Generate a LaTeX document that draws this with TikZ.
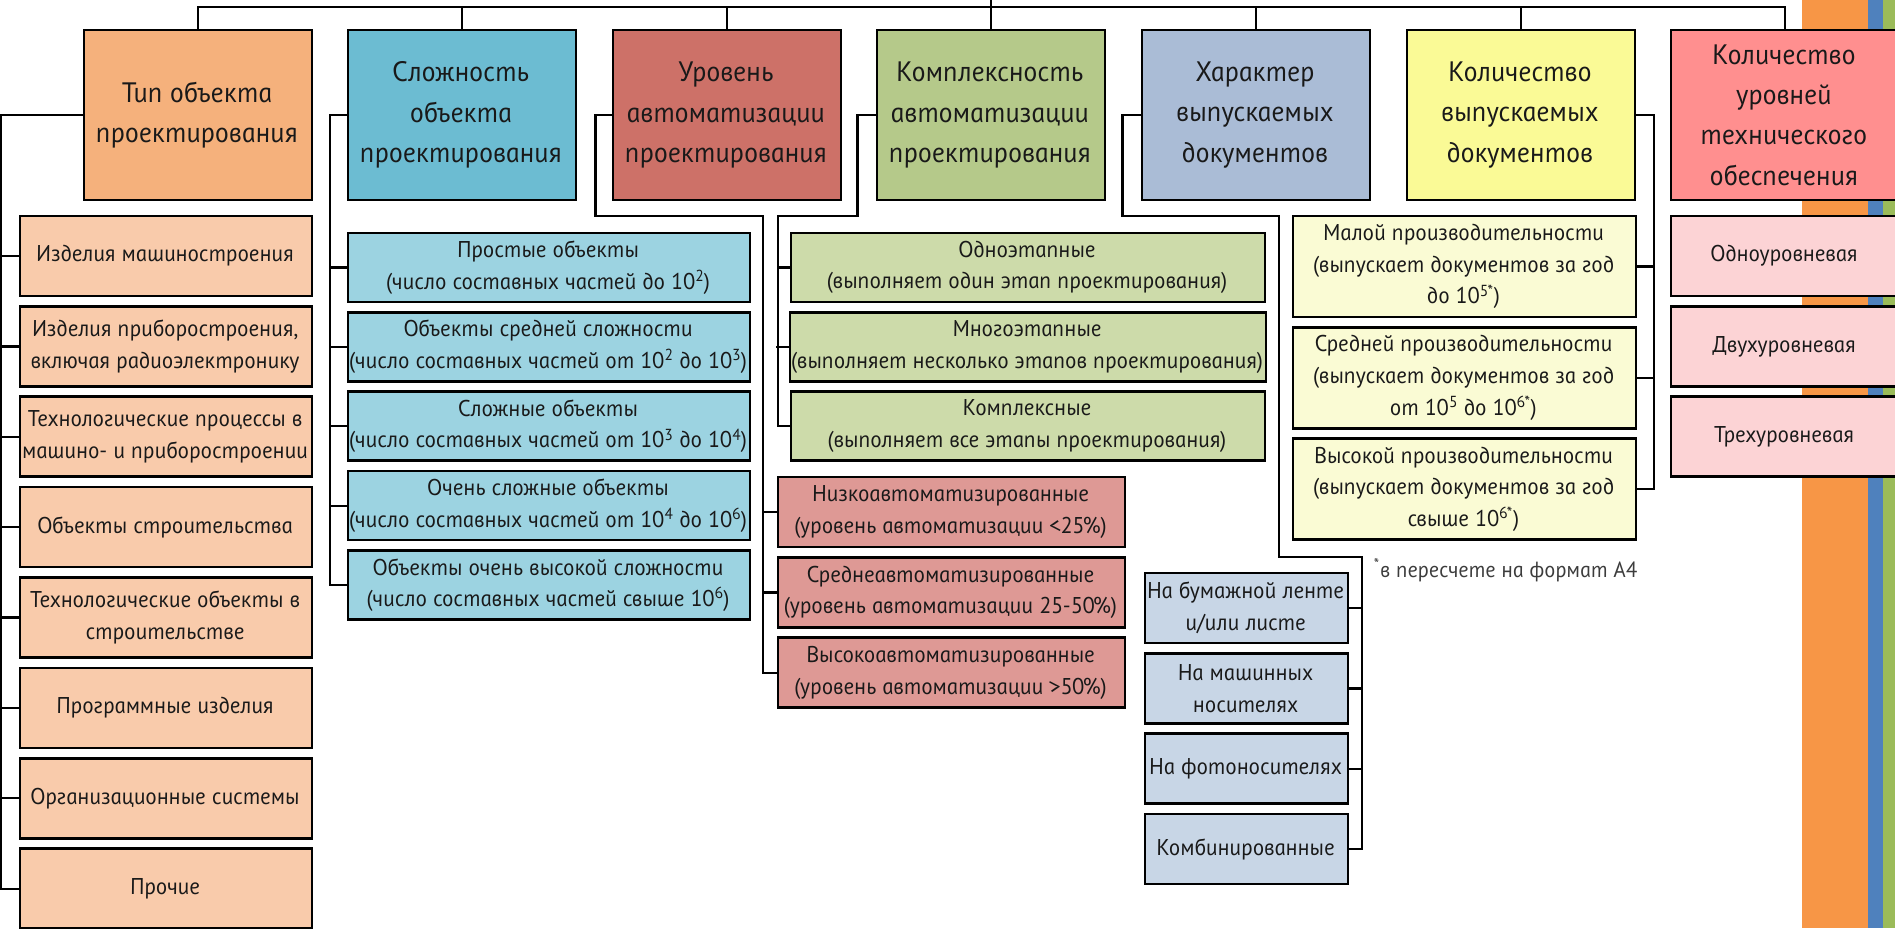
\documentclass[tikz,border=0pt]{standalone}
\usepackage{fontspec}
\setmainfont{PT Sans Italic}[FakeSlant=-0.2]
\usetikzlibrary{positioning,calc}
\definecolor{TipTop}{RGB}{245,177,124}
\definecolor{TipSub}{RGB}{249,203,171}
\definecolor{SloTop}{RGB}{108,188,210}
\definecolor{SloSub}{RGB}{156,211,225}
\definecolor{AvtTop}{RGB}{205,113,104}
\definecolor{AvtSub}{RGB}{222,153,149}
\definecolor{KomTop}{RGB}{181,201,138}
\definecolor{KomSub}{RGB}{205,219,170}
\definecolor{HarTop}{RGB}{170,188,214}
\definecolor{HarSub}{RGB}{200,214,230}
\definecolor{KolTop}{RGB}{250,250,150}
\definecolor{KolSub}{RGB}{250,251,212}
\definecolor{TexTop}{RGB}{255,143,143}
\definecolor{TexSub}{RGB}{252,211,213}
\definecolor{InkDark}{RGB}{25,25,25}
\definecolor{NoteGray}{RGB}{60,60,60}
\definecolor{StripeOrange}{RGB}{247,150,70}
\definecolor{StripeBlue}{RGB}{79,129,189}
\definecolor{StripeGreen}{RGB}{155,187,89}

\begin{document}
\begin{tikzpicture}[node distance=1.55mm,
  headbox/.style={draw,line width=1.6pt,minimum width=4.56cm,minimum height=3.4cm,align=center,text=InkDark,inner sep=1pt,font=\fontsize{16}{23}\selectfont},
  itembox/.style={draw,line width=1.5pt,align=center,text=InkDark,inner sep=1pt,font=\fontsize{13}{18}\selectfont},
  tipbox/.style={itembox,fill=TipSub,minimum width=5.84cm,minimum height=1.6cm},
  slobox/.style={itembox,fill=SloSub,minimum width=8.04cm,minimum height=1.38cm},
  avtbox/.style={itembox,fill=AvtSub,minimum width=6.94cm,minimum height=1.4cm},
  kombox/.style={itembox,fill=KomSub,minimum width=9.48cm,minimum height=1.38cm},
  harbox/.style={itembox,fill=HarSub,minimum width=4.06cm,minimum height=1.4cm},
  kolbox/.style={itembox,fill=KolSub,minimum width=6.86cm,minimum height=2.02cm},
  texbox/.style={itembox,fill=TexSub,minimum width=4.56cm,minimum height=1.6cm},
  link/.style={line width=1.3pt}]
\useasboundingbox (0,0) rectangle (37.9,-18.56);
\fill[StripeOrange] (36.04,0) rectangle (37.36,-18.56);
\fill[StripeBlue] (37.36,0) rectangle (37.66,-18.56);
\fill[StripeGreen] (37.66,0) rectangle (37.9,-18.56);

\node[headbox,fill=TipTop] (tip) at (3.96,-2.3) {Тип объекта\\проектирования};
\node[headbox,fill=SloTop] (slo) at (9.24,-2.3) {Сложность\\объекта\\проектирования};
\node[headbox,fill=AvtTop] (avt) at (14.54,-2.3) {Уровень\\автоматизации\\проектирования};
\node[headbox,fill=KomTop] (kom) at (19.82,-2.3) {Комплексность\\автоматизации\\проектирования};
\node[headbox,fill=HarTop] (har) at (25.12,-2.3) {Характер\\выпускаемых\\документов};
\node[headbox,fill=KolTop] (kol) at (30.42,-2.3) {Количество\\выпускаемых\\документов};
\node[headbox,fill=TexTop] (tex) at (35.70,-2.3) {Количество\\уровней\\технического\\обеспечения};

\node[tipbox] (tip1) at (3.32,-5.12) {Изделия машиностроения};
\node[tipbox,below=of tip1] (tip2) {Изделия приборостроения,\\включая радиоэлектронику};
\node[tipbox,below=of tip2] (tip3) {Технологические процессы в\\машино- и приборостроении};
\node[tipbox,below=of tip3] (tip4) {Объекты строительства};
\node[tipbox,below=of tip4] (tip5) {Технологические объекты в\\строительстве};
\node[tipbox,below=of tip5] (tip6) {Программные изделия};
\node[tipbox,below=of tip6] (tip7) {Организационные системы};
\node[tipbox,below=of tip7] (tip8) {Прочие};

\node[slobox] (slo1) at (10.98,-5.35) {Простые объекты\\(число составных частей до 10\textsuperscript{2})};
\node[slobox,below=of slo1] (slo2) {Объекты средней сложности\\(число составных частей от 10\textsuperscript{2} до 10\textsuperscript{3})};
\node[slobox,below=of slo2] (slo3) {Сложные объекты\\(число составных частей от 10\textsuperscript{3} до 10\textsuperscript{4})};
\node[slobox,below=of slo3] (slo4) {Очень сложные объекты\\(число составных частей от 10\textsuperscript{4} до 10\textsuperscript{6})};
\node[slobox,below=of slo4] (slo5) {Объекты очень высокой сложности\\(число составных частей свыше 10\textsuperscript{6})};

\node[kombox] (kom1) at (20.56,-5.35) {Одноэтапные\\(выполняет один этап проектирования)};
\node[kombox,below=of kom1] (kom2) {Многоэтапные\\(выполняет несколько этапов проектирования)};
\node[kombox,below=of kom2] (kom3) {Комплексные\\(выполняет все этапы проектирования)};

\node[avtbox] (avt1) at (19.03,-10.24) {Низкоавтоматизированные\\(уровень автоматизации <25\%)};
\node[avtbox,below=of avt1] (avt2) {Среднеавтоматизированные\\(уровень автоматизации 25-50\%)};
\node[avtbox,below=of avt2] (avt3) {Высокоавтоматизированные\\(уровень автоматизации >50\%)};

\node[harbox] (har1) at (24.93,-12.16) {На бумажной ленте\\и/или листе};
\node[harbox,below=of har1] (har2) {На машинных\\носителях};
\node[harbox,below=of har2] (har3) {На фотоносителях};
\node[harbox,below=of har3] (har4) {Комбинированные};

\node[kolbox] (kol1) at (29.29,-5.33) {Малой производительности\\(выпускает документов за год\\до 10\textsuperscript{5*})};
\node[kolbox,below=of kol1] (kol2) {Средней производительности\\(выпускает документов за год\\от 10\textsuperscript{5} до 10\textsuperscript{6*})};
\node[kolbox,below=of kol2] (kol3) {Высокой производительности\\(выпускает документов за год\\свыше 10\textsuperscript{6*})};
\node[anchor=west,text=NoteGray,font=\fontsize{12.5}{15}\selectfont] (note) at (27.38,-11.4) {\textsuperscript{*}в пересчете на формат А4};

\node[texbox] (tex1) at (35.70,-5.12) {Одноуровневая};
\node[texbox,below=of tex1] (tex2) {Двухуровневая};
\node[texbox,below=of tex2] (tex3) {Трехуровневая};

\coordinate (root) at (19.82,0);
\coordinate (bus) at (19.82,-0.14);
\draw[link] (tip.north) |- (bus) -| (tex.north);
\foreach \n in {slo,avt,kom,har,kol} \draw[link] (\n.north) -- (\n.north |- bus);
\draw[link] (root) -- (kom.north);

\draw[link] (tip.west) -| ([xshift=-3.6mm]tip8.west) -- (tip8.west);
\foreach \i in {1,...,7} \draw[link] (tip\i.west) -- ++(-3.6mm,0);
\draw[link] (slo.west) -| ([xshift=-3.4mm]slo5.west) -- (slo5.west);
\foreach \i in {1,...,4} \draw[link] (slo\i.west) -- ++(-3.4mm,0);
\draw[link] (avt.west) -- ++(-0.32,0) |- (15.26,-4.32) |- (avt3.west);
\foreach \i in {1,2} \draw[link] (avt\i.west) -- ++(-3mm,0);
\draw[link] (kom.west) -- ++(-0.36,0) |- (15.56,-4.32) |- (kom3.west);
\foreach \i in {1,2} \draw[link] (kom\i.west) -- ++(-2.6mm,0);
\draw[link] (har.west) -- ++(-0.36,0) |- (25.58,-4.32) |- (27.24,-11.14) |- (har4.east);
\foreach \i in {1,2,3} \draw[link] (har\i.east) -- ++(2.8mm,0);
\draw[link] (kol.east) -| ([xshift=3.4mm]kol3.east) -- (kol3.east);
\foreach \i in {1,2} \draw[link] (kol\i.east) -- ++(3.4mm,0);
\end{tikzpicture}
\end{document}
